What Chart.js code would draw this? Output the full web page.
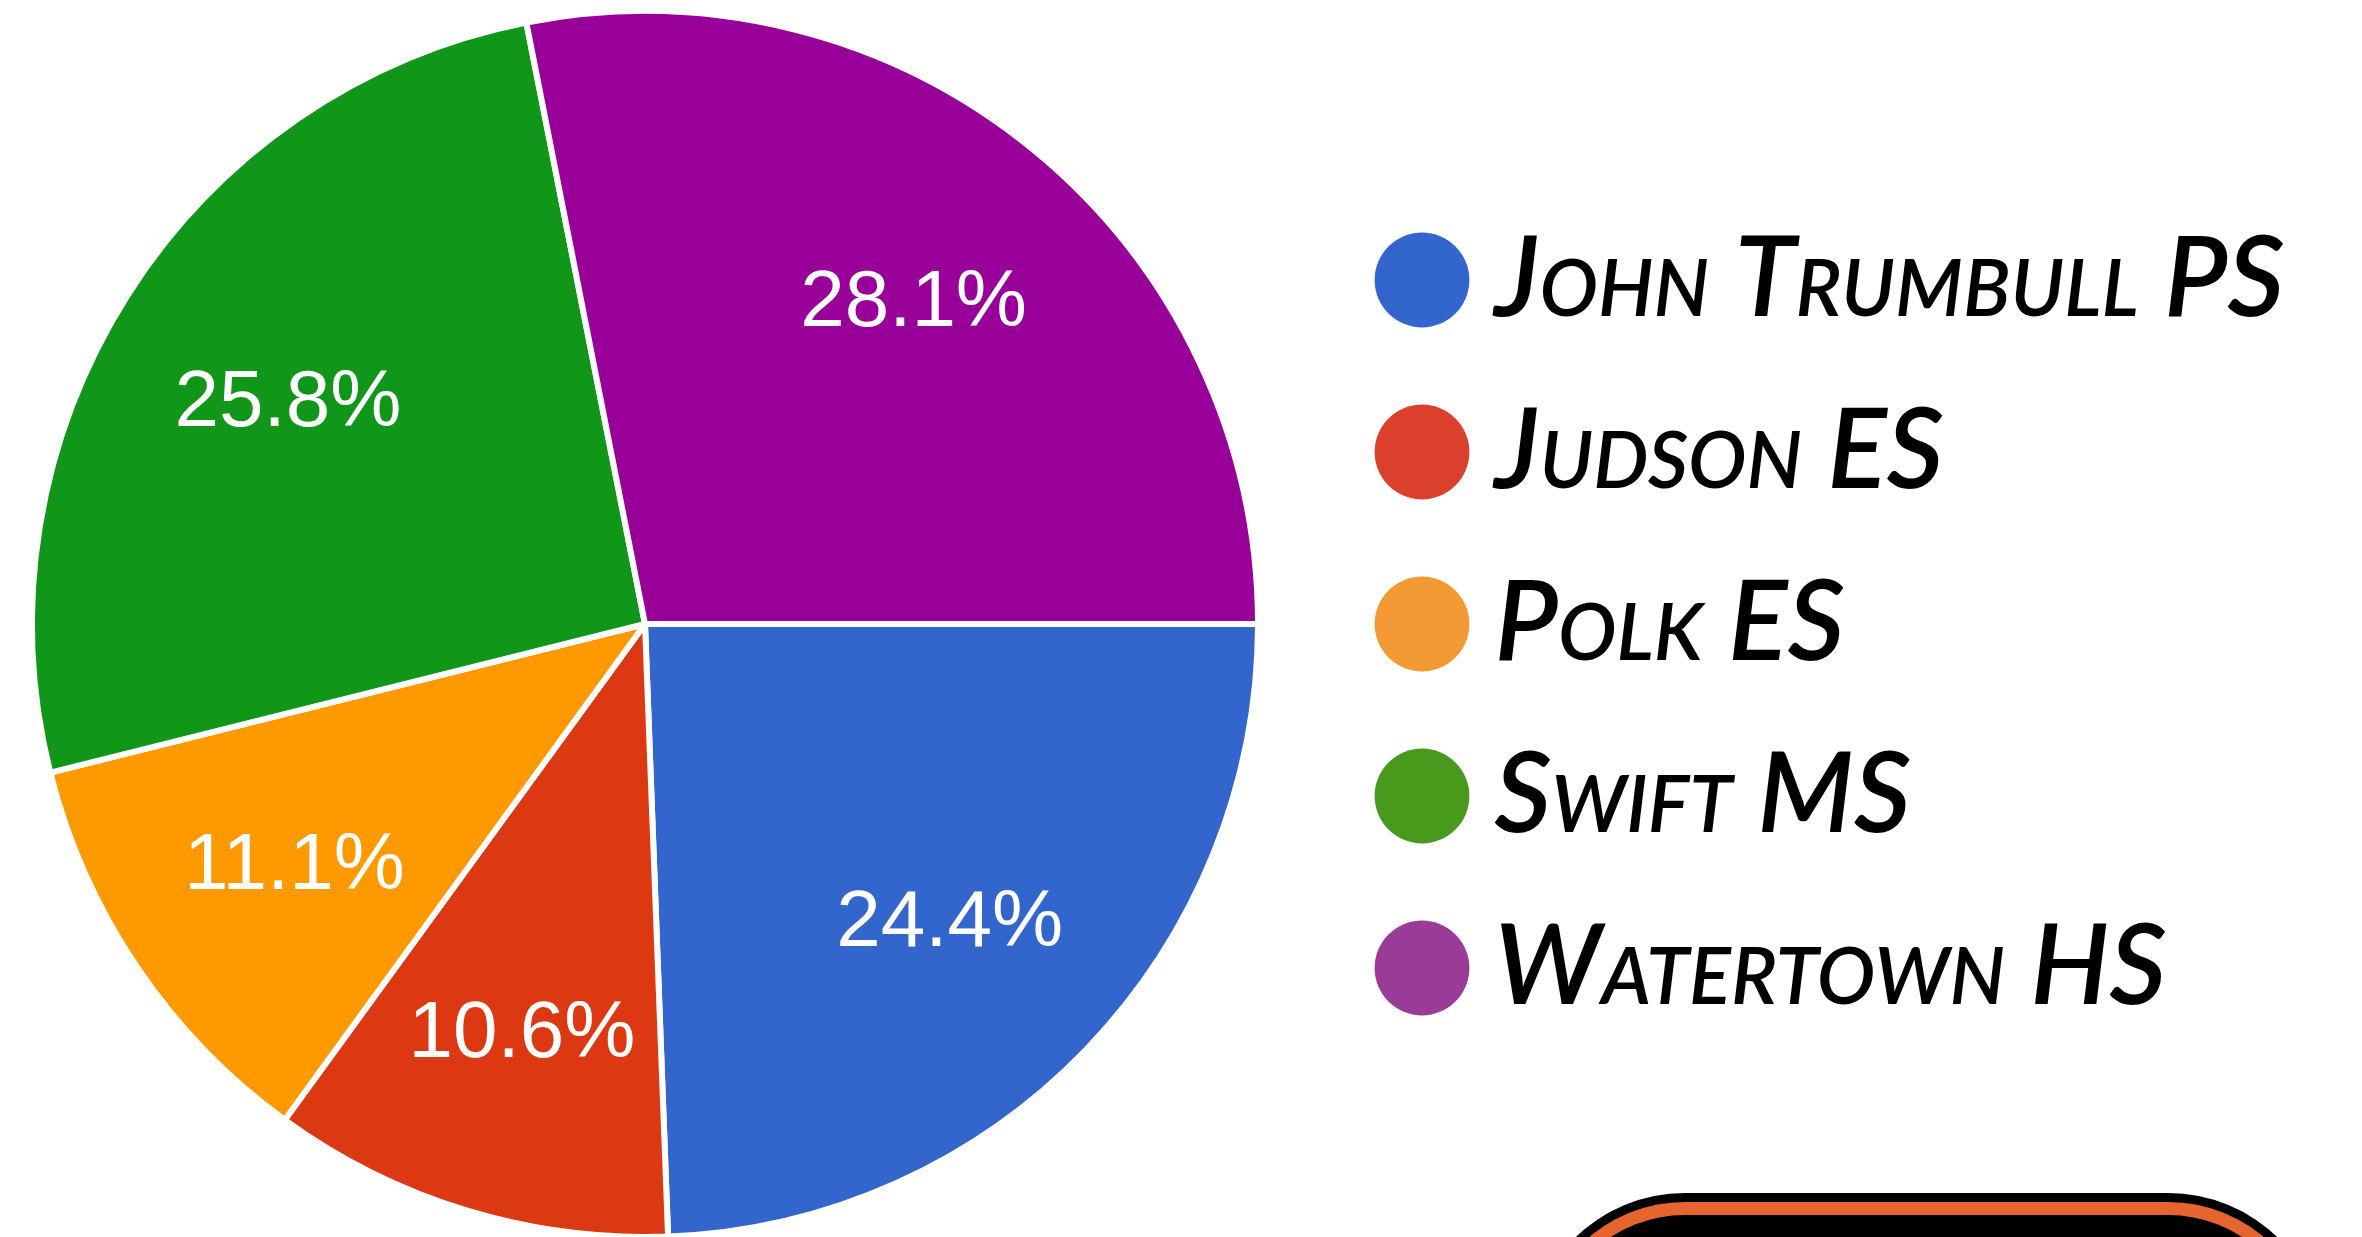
<!DOCTYPE html>
<html>
<head>
<meta charset="utf-8">
<script src="https://cdn.jsdelivr.net/npm/chart.js@4"></script>
<style>
  html, body { margin: 0; padding: 0; background: #fff; overflow: hidden; }
  body { width: 2362px; height: 1237px; position: relative; }
  #wrap { position: absolute; left: -54px; top: 0; width: 2416px; height: 1245px; }
  .badge { position: absolute; left: 1527px; top: 1193px; width: 799px; height: 320px;
           border-radius: 158px; background: #000; }
  .badge .ring { position: absolute; left: 9px; top: 9px; right: 9px; bottom: 9px;
                 border: 13px solid #e6652f; border-radius: 149px; }
</style>
</head>
<body>
<div id="wrap"><canvas id="schoolPie"></canvas></div>
<div class="badge"><div class="ring"></div></div>

<script>
// =========================
// DATA
// =========================
const schools = ['John Trumbull PS', 'Judson ES', 'Polk ES', 'Swift MS', 'Watertown HS'];
const shares  = [24.4, 10.6, 11.1, 25.8, 28.1];

// google-chart palette for slices, softer tones in the legend dots
const sliceColors  = ['#3366cc', '#dc3912', '#ff9900', '#109618', '#990099'];
const legendColors = ['#3366cc', '#db402d', '#f39a34', '#48991c', '#9a3b97'];

// =========================
// LAYOUT
// =========================
const CHART_W = 1398;      // pie area width inside the canvas
const CANVAS_W = 2416;
const LEGEND_FONT = { family: 'Lato, sans-serif', size: 111, style: 'italic', weight: 'small-caps 600' };
const LABEL_PAD = 61;      // 172px row pitch minus font size
const BOX_W = 34;

// legend width is measured so the pie area keeps its width
const probe = document.createElement('canvas').getContext('2d');
probe.font = `italic small-caps 600 ${LEGEND_FONT.size}px ${LEGEND_FONT.family}`;
const maxText = Math.max(...schools.map(s => probe.measureText(s).width));
const legendW = LABEL_PAD + BOX_W + LEGEND_FONT.size / 2 + maxText + 10;
const rightPad = Math.max(0, CANVAS_W - CHART_W - legendW);

// white percentage labels inside each slice
const LABEL_SIZE = 80;
const sliceLabels = {
  id: 'sliceLabels',
  afterDatasetsDraw(chart) {
    const ctx = chart.ctx;
    const meta = chart.getDatasetMeta(0);
    ctx.save();
    ctx.fillStyle = '#ffffff';
    ctx.font = LABEL_SIZE + 'px "Liberation Sans", Arial, sans-serif';
    ctx.textAlign = 'center';
    ctx.textBaseline = 'alphabetic';
    meta.data.forEach((arc, i) => {
      const p = arc.getProps(['x', 'y', 'startAngle', 'endAngle', 'outerRadius'], true);
      const mid = (p.startAngle + p.endAngle) / 2;
      const r = p.outerRadius * 0.69;
      // centre the digits (cap height ~0.716em) on the anchor point
      const ty = p.y + Math.sin(mid) * r + LABEL_SIZE * 0.358;
      ctx.fillText(shares[i].toFixed(1) + '%', p.x + Math.cos(mid) * r, ty);
    });
    ctx.restore();
  }
};

// =========================
// PIE
// =========================
const pieCtx = document.getElementById('schoolPie');

if (pieCtx) {
  new Chart(pieCtx, {
    type: 'pie',
    data: {
      labels: schools,
      datasets: [{
        data: shares,
        backgroundColor: sliceColors,
        borderColor: '#ffffff',
        borderWidth: 6
      }]
    },
    options: {
      responsive: true,
      maintainAspectRatio: false,
      animation: false,
      rotation: 90,
      layout: { padding: { left: 0, top: 8, bottom: 5, right: rightPad } },
      plugins: {
        tooltip: { enabled: false },
        legend: {
          position: 'right',
          align: 'center',
          labels: {
            usePointStyle: true,
            boxWidth: BOX_W,
            boxHeight: 67,
            padding: LABEL_PAD,
            color: '#000000',
            font: LEGEND_FONT,
            generateLabels: () => schools.map((s, i) => ({
              text: s,
              fillStyle: legendColors[i],
              strokeStyle: legendColors[i],
              lineWidth: 0,
              pointStyle: 'circle',
              hidden: false,
              index: i
            }))
          }
        }
      }
    },
    plugins: [sliceLabels]
  });
}
</script>
</body>
</html>
